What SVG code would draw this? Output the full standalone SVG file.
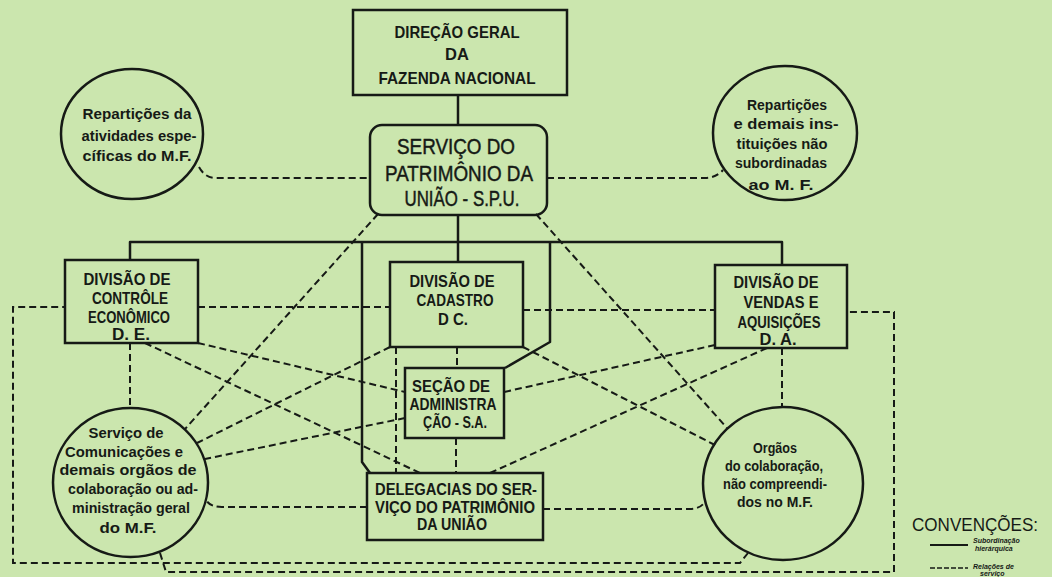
<svg xmlns="http://www.w3.org/2000/svg" width="1052" height="577" viewBox="0 0 1052 577">
<style>
.box{fill:none;stroke:#161a16;stroke-width:2.5}
.solid{fill:none;stroke:#161a16;stroke-width:2.5;stroke-linejoin:round}
.dash{fill:none;stroke:#161a16;stroke-width:2;stroke-dasharray:7 4}
text{font-family:"Liberation Sans",Arial,sans-serif;fill:#161a16;text-anchor:middle}
.t{font-weight:bold;font-size:16.5px}
.spu{font-weight:normal;font-size:21.5px;stroke:#161a16;stroke-width:0.45}
.c{font-weight:bold;font-size:14.5px}
.leg{font-weight:bold;font-style:italic;font-size:7px;text-anchor:start}
</style>
<rect x="0" y="0" width="1052" height="577" fill="#cbe6ae"/>

<g id="connectors">
  <path class="solid" d="M458,95 V125"/>
  <path class="solid" d="M458,215 V262"/>
  <path class="solid" d="M130,260 V242 H782 V265"/>
  <path class="solid" d="M362,242 V462 L370,473"/>
  <path class="solid" d="M550,242 V342 L505,368"/>

  <path class="dash" d="M199,167 Q205,178 216,178 H370"/>
  <path class="dash" d="M547,178 H705 Q716,178 723,170"/>
  <path class="dash" d="M198,307 H390"/>
  <path class="dash" d="M523,310 H715"/>
  <path class="dash" d="M130,343 V408"/>
  <path class="dash" d="M782,348 V407"/>
  <path class="dash" d="M457,347 V368"/>
  <path class="dash" d="M456,438 V473"/>
  <path class="dash" d="M396,347 V473"/>
  <path class="dash" d="M378,214 L185,429"/>
  <path class="dash" d="M536,214 L727,428"/>
  <path class="dash" d="M390,347 L197,443"/>
  <path class="dash" d="M405,418 L205,459"/>
  <path class="dash" d="M367,507 H222 Q210,507 206,500"/>
  <path class="dash" d="M198,343 L405,392"/>
  <path class="dash" d="M145,343 L420,473"/>
  <path class="dash" d="M523,347 L715,445"/>
  <path class="dash" d="M715,345 L504,392"/>
  <path class="dash" d="M767,348 L490,473"/>
  <path class="dash" d="M543,509 H690 Q700,509 705,502"/>
  <path class="dash" d="M160,553 L166,572 H894 V312 H847"/>
  <path class="dash" d="M748,553 L740,563 H13 V307 H65"/>
</g>

<g id="direcao-geral">
  <rect class="box" x="353" y="10" width="214" height="85"/>
  <text class="t" x="457" y="38" textLength="125" lengthAdjust="spacingAndGlyphs">DIREÇÃO GERAL</text>
  <text class="t" x="457" y="60">DA</text>
  <text class="t" x="457" y="84" textLength="157" lengthAdjust="spacingAndGlyphs">FAZENDA NACIONAL</text>
</g>

<g id="spu">
  <rect class="box" x="370" y="125" width="177" height="90" rx="12"/>
  <text class="spu" x="456" y="154" textLength="118" lengthAdjust="spacingAndGlyphs">SERVIÇO DO</text>
  <text class="spu" x="459" y="181" textLength="148" lengthAdjust="spacingAndGlyphs">PATRIMÔNIO DA</text>
  <text class="spu" x="462" y="206" textLength="115" lengthAdjust="spacingAndGlyphs">UNIÃO - S.P.U.</text>
</g>

<g id="reparticoes-mf">
  <ellipse class="box" cx="132" cy="134" rx="71" ry="65"/>
  <text class="c" x="137" y="119" textLength="109" lengthAdjust="spacingAndGlyphs">Repartições da</text>
  <text class="c" x="139" y="141" textLength="115" lengthAdjust="spacingAndGlyphs">atividades espe-</text>
  <text class="c" x="137" y="161" textLength="109" lengthAdjust="spacingAndGlyphs">cíficas do M.F.</text>
</g>

<g id="reparticoes-nao-subordinadas">
  <ellipse class="box" cx="785" cy="133" rx="72" ry="67"/>
  <text class="c" x="787" y="110" textLength="80" lengthAdjust="spacingAndGlyphs">Repartições</text>
  <text class="c" x="786" y="129" textLength="105" lengthAdjust="spacingAndGlyphs">e demais ins-</text>
  <text class="c" x="782" y="149" textLength="91" lengthAdjust="spacingAndGlyphs">tituições não</text>
  <text class="c" x="781" y="168" textLength="92" lengthAdjust="spacingAndGlyphs">subordinadas</text>
  <text class="c" x="781" y="190" textLength="65" lengthAdjust="spacingAndGlyphs">ao M. F.</text>
</g>

<g id="divisao-controle">
  <rect class="box" x="65" y="260" width="133" height="83"/>
  <text class="t" x="127" y="285" textLength="87" lengthAdjust="spacingAndGlyphs">DIVISÃO DE</text>
  <text class="t" x="130" y="304" textLength="76" lengthAdjust="spacingAndGlyphs">CONTRÔLE</text>
  <text class="t" x="129" y="323" textLength="82" lengthAdjust="spacingAndGlyphs">ECONÔMICO</text>
  <text class="t" x="131" y="340" textLength="38" lengthAdjust="spacingAndGlyphs">D. E.</text>
</g>

<g id="divisao-cadastro">
  <rect class="box" x="390" y="262" width="133" height="85"/>
  <text class="t" x="452" y="287" textLength="85" lengthAdjust="spacingAndGlyphs">DIVISÃO DE</text>
  <text class="t" x="455" y="306" textLength="77" lengthAdjust="spacingAndGlyphs">CADASTRO</text>
  <text class="t" x="453" y="325" textLength="30" lengthAdjust="spacingAndGlyphs">D C.</text>
</g>

<g id="divisao-vendas">
  <rect class="box" x="715" y="265" width="132" height="83"/>
  <text class="t" x="776" y="288" textLength="85" lengthAdjust="spacingAndGlyphs">DIVISÃO DE</text>
  <text class="t" x="781" y="308" textLength="75" lengthAdjust="spacingAndGlyphs">VENDAS E</text>
  <text class="t" x="779" y="328" textLength="83" lengthAdjust="spacingAndGlyphs">AQUISIÇÕES</text>
  <text class="t" x="778" y="345" textLength="37" lengthAdjust="spacingAndGlyphs">D. A.</text>
</g>

<g id="secao-administracao">
  <rect class="box" x="405" y="368" width="99" height="70"/>
  <text class="t" x="451" y="392" textLength="78" lengthAdjust="spacingAndGlyphs">SEÇÃO DE</text>
  <text class="t" x="453" y="410" textLength="87" lengthAdjust="spacingAndGlyphs">ADMINISTRA</text>
  <text class="t" x="455" y="428" textLength="64" lengthAdjust="spacingAndGlyphs">ÇÃO - S.A.</text>
</g>

<g id="delegacias">
  <rect class="box" x="367" y="473" width="176" height="67"/>
  <text class="t" x="456" y="495" textLength="162" lengthAdjust="spacingAndGlyphs">DELEGACIAS DO SER-</text>
  <text class="t" x="455" y="513" textLength="160" lengthAdjust="spacingAndGlyphs">VIÇO DO PATRIMÔNIO</text>
  <text class="t" x="452" y="530" textLength="70" lengthAdjust="spacingAndGlyphs">DA UNIÃO</text>
</g>

<g id="servico-comunicacoes">
  <ellipse class="box" cx="130.5" cy="482.5" rx="77.5" ry="74.5"/>
  <text class="c" x="126" y="438" textLength="75" lengthAdjust="spacingAndGlyphs">Serviço de</text>
  <text class="c" x="124" y="457" textLength="118" lengthAdjust="spacingAndGlyphs">Comunicações e</text>
  <text class="c" x="128" y="475" textLength="137" lengthAdjust="spacingAndGlyphs">demais orgãos de</text>
  <text class="c" x="133" y="494" textLength="130" lengthAdjust="spacingAndGlyphs">colaboração ou ad-</text>
  <text class="c" x="131" y="513" textLength="118" lengthAdjust="spacingAndGlyphs">ministração geral</text>
  <text class="c" x="128" y="533" textLength="57" lengthAdjust="spacingAndGlyphs">do M.F.</text>
</g>

<g id="orgaos-colaboracao">
  <ellipse class="box" cx="783" cy="483.5" rx="80" ry="76.5"/>
  <text class="c" x="775" y="453" textLength="44" lengthAdjust="spacingAndGlyphs">Orgãos</text>
  <text class="c" x="774" y="471" textLength="98" lengthAdjust="spacingAndGlyphs">do colaboração,</text>
  <text class="c" x="775" y="489" textLength="104" lengthAdjust="spacingAndGlyphs">não compreendi-</text>
  <text class="c" x="775" y="507" textLength="76" lengthAdjust="spacingAndGlyphs">dos no M.F.</text>
</g>

<g id="legenda">
  <text x="975" y="531" font-size="19" textLength="126" lengthAdjust="spacingAndGlyphs">CONVENÇÕES:</text>
  <path d="M930,545 H968" fill="none" stroke="#161a16" stroke-width="2"/>
  <path d="M930,568 H968" fill="none" stroke="#161a16" stroke-width="1.6" stroke-dasharray="5 2"/>
  <text class="leg" x="973" y="543">Subordinação</text>
  <text class="leg" x="975" y="551">hierárquica</text>
  <text class="leg" x="973" y="569">Relações de</text>
  <text class="leg" x="980" y="576">serviço</text>
</g>
</svg>
